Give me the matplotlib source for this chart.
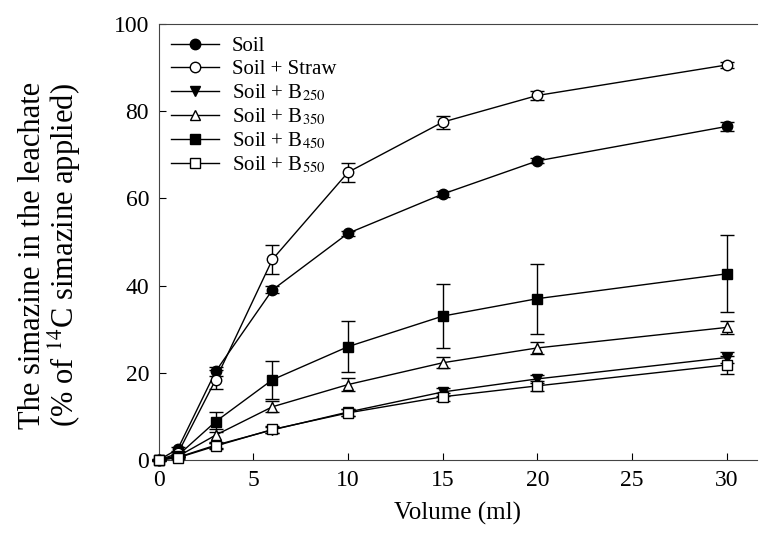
import matplotlib
matplotlib.use('Agg')
import matplotlib.pyplot as plt
from matplotlib.lines import Line2D

plt.rcParams['font.family'] = ['Liberation Serif', 'DejaVu Serif']
plt.rcParams['mathtext.fontset'] = 'stix'

# Leachate volume (ml)
volume = [0, 1, 3, 6, 10, 15, 20, 30]

# Simazine in leachate (% of applied) and error bars
soil = [0, 2.5, 20.3, 39.0, 52.0, 61.0, 68.6, 76.5]
soil_err = [0.2, 0.4, 1.0, 0.8, 0.6, 0.6, 0.6, 1.0]
straw = [0, 1.5, 18.4, 46.0, 66.0, 77.5, 83.6, 90.6]
straw_err = [0.2, 0.3, 2.2, 3.3, 2.2, 1.5, 1.0, 0.7]
b250 = [0, 0.6, 3.4, 6.9, 11.0, 15.6, 18.6, 23.5]
b250_err = [0.1, 0.2, 0.6, 0.6, 0.8, 0.9, 0.9, 1.2]
b350 = [0, 0.8, 5.7, 12.2, 17.3, 22.3, 25.7, 30.4]
b350_err = [0.1, 0.2, 1.5, 1.3, 1.4, 1.3, 1.3, 1.5]
b450 = [0, 1.0, 8.8, 18.4, 26.0, 33.0, 37.0, 42.7]
b450_err = [0.1, 0.3, 2.3, 4.4, 5.8, 7.3, 8.0, 8.8]
b550 = [0, 0.5, 3.2, 7.0, 10.8, 14.5, 17.0, 21.8]
b550_err = [0.1, 0.2, 0.7, 0.7, 0.8, 0.9, 1.2, 2.0]

labels = ['Soil', 'Soil + Straw', 'Soil + B$_{250}$', 'Soil + B$_{350}$',
          'Soil + B$_{450}$', 'Soil + B$_{550}$']
series = [soil, straw, b250, b350, b450, b550]
errors = [soil_err, straw_err, b250_err, b350_err, b450_err, b550_err]
markers = ['o', 'o', 'v', '^', 's', 's']
faces = ['black', 'white', 'black', 'white', 'black', 'white']

fig = plt.figure(figsize=(7.6, 5.45), dpi=100)
ax = fig.add_axes([0.209, 0.156, 0.787, 0.8])

handles = []
for y, e, m, fc, lab in zip(series, errors, markers, faces, labels):
    ax.errorbar(volume, y, yerr=e, marker=m, markersize=7.5, mfc=fc, mec='black',
                color='black', lw=1, elinewidth=1, capsize=5, capthick=1,
                clip_on=False, zorder=3)
    handles.append(Line2D([], [], marker=m, markersize=7.5, mfc=fc, mec='black',
                          color='black', lw=1, label=lab))

ax.set_xlim(0, 31.6)
ax.set_ylim(0, 100)
ax.set_xticks([0, 5, 10, 15, 20, 25, 30])
ax.set_yticks([0, 20, 40, 60, 80, 100])
ax.tick_params(direction='in', length=5, labelsize=17, pad=7)
ax.spines['right'].set_visible(False)
for s in ['left', 'top', 'bottom']:
    ax.spines[s].set_color('#444444')

ax.set_xlabel('Volume (ml)', fontsize=18, labelpad=8)
ax.set_ylabel('The simazine in the leachate\n(% of $^{14}$C simazine applied)',
              fontsize=22, linespacing=0.95)
ax.yaxis.set_label_coords(-0.127, 0.47)

ax.legend(handles=handles, loc='upper left', frameon=False, fontsize=15,
          handlelength=2.3, labelspacing=0.16, borderaxespad=0.3,
          handletextpad=0.6, borderpad=0.3)

fig.savefig('out.png', dpi=100)
